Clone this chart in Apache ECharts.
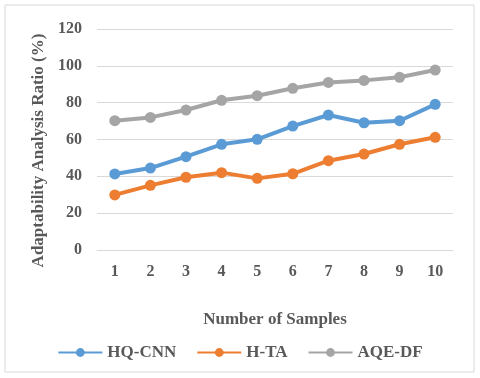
<!DOCTYPE html>
<html>
<head>
<meta charset="utf-8">
<script src="https://cdn.jsdelivr.net/npm/echarts@6/dist/echarts.min.js"></script>
<style>
  html, body { margin: 0; padding: 0; background: #fff; }
  #chart { width: 480px; height: 378px; }
</style>
</head>
<body>
<div id="chart"></div>
<script>
const categories = ['1', '2', '3', '4', '5', '6', '7', '8', '9', '10'];
const hqCnn = [41.3, 44.5, 50.7, 57.4, 60.1, 67.3, 73.3, 69.1, 70.2, 79.1];
const hTa = [29.9, 35.1, 39.5, 42.0, 38.9, 41.4, 48.5, 52.1, 57.4, 61.2];
const aqeDf = [70.2, 72.0, 76.0, 81.3, 83.8, 87.8, 91.0, 92.1, 93.8, 97.7];

const font = 'Liberation Serif';
const chart = echarts.init(document.getElementById('chart'));

function line(name, data, color) {
  return {
    name: name,
    type: 'line',
    data: data,
    symbol: 'circle',
    symbolSize: 11,
    lineStyle: { width: 4, color: color },
    itemStyle: { color: color },
    animation: false
  };
}

chart.setOption({
  animation: false,
  graphic: [{
    type: 'rect',
    shape: { x: 5, y: 5, width: 469, height: 367 },
    style: { fill: 'none', stroke: '#d9d9d9', lineWidth: 1 },
    silent: true
  }],
  grid: { left: 97, right: 27, top: 29, bottom: 128 },
  legend: {
    top: 339,
    left: 'center',
    itemWidth: 44,
    itemHeight: 11,
    itemGap: 20,
    textStyle: { fontFamily: font, fontWeight: 'bold', fontSize: 17, color: '#595959' },
    data: ['HQ-CNN', 'H-TA', 'AQE-DF']
  },
  xAxis: {
    type: 'category',
    data: categories,
    boundaryGap: true,
    name: 'Number of Samples',
    nameLocation: 'middle',
    nameGap: 61,
    nameTextStyle: { fontFamily: font, fontWeight: 'bold', fontSize: 17, color: '#595959' },
    axisLine: { lineStyle: { color: '#d9d9d9', width: 1 } },
    axisTick: { show: false },
    axisLabel: { margin: 14, fontFamily: font, fontWeight: 'bold', fontSize: 16, color: '#595959' }
  },
  yAxis: {
    type: 'value',
    min: 0,
    max: 120,
    interval: 20,
    name: 'Adaptability Analysis Ratio (%)',
    nameLocation: 'middle',
    nameGap: 43,
    nameTextStyle: { fontFamily: font, fontWeight: 'bold', fontSize: 17, color: '#595959', padding: [0, 22, 0, 0] },
    axisLine: { show: false },
    axisTick: { show: false },
    axisLabel: { margin: 15, fontFamily: font, fontWeight: 'bold', fontSize: 16, color: '#595959' },
    splitLine: { lineStyle: { color: '#d9d9d9', width: 1 } }
  },
  series: [
    line('HQ-CNN', hqCnn, '#5B9BD5'),
    line('H-TA', hTa, '#ED7D31'),
    line('AQE-DF', aqeDf, '#A5A5A5')
  ]
});
</script>
</body>
</html>
